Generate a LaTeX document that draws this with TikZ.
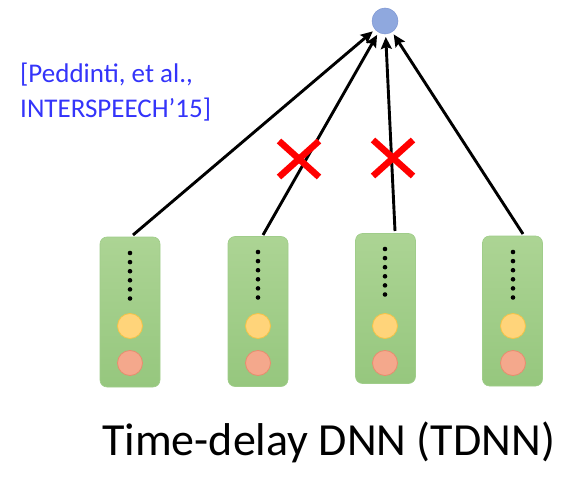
\documentclass[tikz,border=0pt]{standalone}
\usepackage{fontspec}
\setmainfont{Carlito}
\usetikzlibrary{arrows.meta}
\definecolor{citeblue}{RGB}{52,52,250}
\definecolor{topblue}{RGB}{143,168,222}
\definecolor{topblueb}{RGB}{125,150,210}
\definecolor{gtop}{RGB}{172,212,148}
\definecolor{gbot}{RGB}{150,199,126}
\definecolor{gedge}{RGB}{160,205,138}
\definecolor{yfill}{RGB}{255,212,122}
\definecolor{yedge}{RGB}{245,195,70}
\definecolor{rfill}{RGB}{244,168,140}
\definecolor{redge}{RGB}{232,140,110}
\definecolor{xred}{RGB}{255,0,0}
\tikzset{
  x=1pt,y=-1pt,
  dnnbox/.style={rectangle,rounded corners=7pt,minimum width=60pt,minimum height=150pt,
    top color=gtop,bottom color=gbot,draw=gedge,line width=0.6pt,inner sep=0pt},
  yunit/.style={circle,minimum size=25pt,inner sep=0pt,fill=yfill,draw=yedge,line width=0.8pt},
  runit/.style={circle,minimum size=25pt,inner sep=0pt,fill=rfill,draw=redge,line width=0.8pt},
  dotunit/.style={circle,minimum size=4.6pt,inner sep=0pt,fill=black},
  topunit/.style={circle,minimum size=26pt,inner sep=0pt,fill=topblue,draw=topblueb,line width=0.5pt,outer sep=3pt},
  conn/.style={line width=2.9pt,-{Stealth[length=12pt,width=11pt,inset=2pt]}},
  xmark/.style={xred,line width=6.5pt},
}
\begin{document}
\begin{tikzpicture}
\useasboundingbox (0,0) rectangle (578,481);
% top unit
\node[topunit] (top) at (385,21) {};
% boxes
\node[dnnbox] (b1) at (130,312) {};
\node[dnnbox] (b2) at (258,311.5) {};
\node[dnnbox] (b3) at (385.5,308.5) {};
\node[dnnbox] (b4) at (512.5,311) {};
% units
\foreach \n/\x/\ya in {1/130/253,2/258/252,3/385/249,4/513/252}{
  \foreach \k in {0,...,5}{
    \node[dotunit] (d\n\k) at (\x,\ya+9.1*\k) {};
  }
  \node[yunit] (y\n) at (\x,326) {};
  \node[runit] (r\n) at (\x,363) {};
}
% connector start points
\coordinate (s1) at (133,235);
\coordinate (s2) at (263,235);
\coordinate (s3) at (395,231);
\coordinate (s4) at (523,234);
\draw[conn] (s1) -- (top);
\draw[conn] (s2) -- (top);
\draw[conn] (s3) -- (top);
\draw[conn] (s4) -- (top);
% crosses
\coordinate (c1) at (299,159);
\coordinate (c2) at (393,158);
\foreach \c in {c1,c2}{
  \draw[xmark] (\c) ++(-20,-18) -- ++(40,36);
  \draw[xmark] (\c) ++(20,-18) -- ++(-40,36);
}
% texts
\node[anchor=base west,inner sep=0pt,text=citeblue,font=\fontsize{27}{35}\selectfont] (cite1) at (20,83) {[Peddinti, et al.,};
\node[anchor=base west,inner sep=0pt,text=citeblue,font=\fontsize{27}{35}\selectfont] (cite2) at (20,118) {INTERSPEECH’15]};
\node[anchor=base west,inner sep=0pt,font=\fontsize{46}{52}\selectfont] (title) at (102,455) {Time-delay DNN (TDNN)};
\end{tikzpicture}
\end{document}
